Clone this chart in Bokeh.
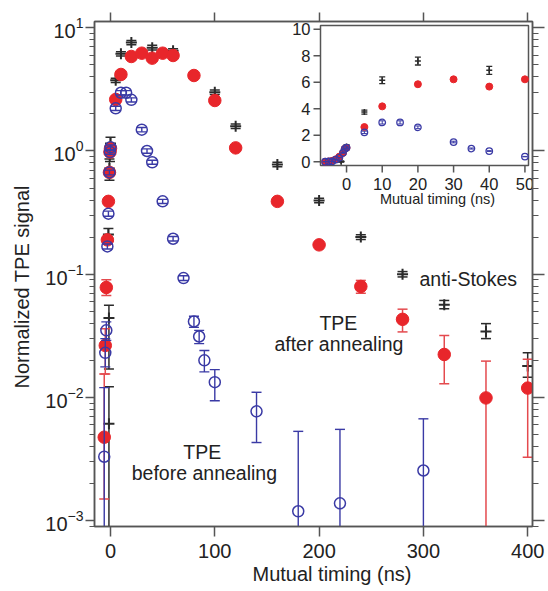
from bokeh.plotting import figure
from bokeh.models import (Range1d, LinearScale, LinearAxis, LogAxis, Label, Title,
                          FixedTicker, LogTickFormatter, CustomJSTickFormatter)
from bokeh.core.properties import value
from bokeh.embed import file_html
from bokeh.resources import INLINE

# ---------------- data ----------------
# TPE after annealing (red filled circles)
after_x = [-6, -5, -4, -3, -2, -1, -0.5, 0, 5, 10, 20, 30, 40, 50, 60, 80, 100, 120, 160, 200, 240, 280, 320, 360, 400]
after_y = [0.00475, 0.0264, 0.078, 0.19, 0.39, 0.67, 0.98, 1.05, 2.62, 4.18, 5.85, 6.22, 5.67, 6.22, 5.96, 4.1, 2.57, 1.06, 0.39, 0.173, 0.0795, 0.043, 0.0223, 0.0099, 0.0119]
after_lo = [0.0015, 0.0155, 0.067, 0.18, 0.375, 0.645, 0.95, 1.01, 2.55, 4.07, 5.7, 6.05, 5.52, 6.05, 5.8, 3.99, 2.5, 1.03, 0.38, 0.168, 0.07, 0.034, 0.0129, 0.00001, 0.00327]
after_hi = [0.0155, 0.036, 0.09, 0.2, 0.405, 0.695, 1.01, 1.09, 2.69, 4.29, 6.0, 6.39, 5.82, 6.39, 6.12, 4.21, 2.64, 1.09, 0.40, 0.178, 0.089, 0.052, 0.0318, 0.0197, 0.0204]

# TPE before annealing (blue open circles)
before_x = [-6, -5, -4, -3, -2, -1, -0.5, 0, 5, 10, 15, 20, 30, 35, 40, 50, 60, 70, 80, 85, 90, 100, 140, 180, 220, 300]
before_y = [0.0033, 0.023, 0.035, 0.168, 0.31, 0.67, 0.98, 1.07, 2.22, 2.97, 2.97, 2.6, 1.49, 1.0, 0.81, 0.39, 0.194, 0.093, 0.0413, 0.0312, 0.02, 0.0133, 0.0077, 0.00119, 0.00138, 0.00255]
before_lo = [0.00001, 0.0177, 0.029, 0.16, 0.295, 0.64, 0.94, 1.02, 2.13, 2.85, 2.85, 2.5, 1.43, 0.96, 0.78, 0.375, 0.186, 0.089, 0.037, 0.0273, 0.0161, 0.0094, 0.0043, 0.00001, 0.00001, 0.00001]
before_hi = [0.012, 0.03, 0.041, 0.176, 0.325, 0.7, 1.02, 1.12, 2.31, 3.09, 3.09, 2.7, 1.55, 1.04, 0.84, 0.405, 0.202, 0.097, 0.0455, 0.035, 0.024, 0.0168, 0.011, 0.0053, 0.0055, 0.0067]

# anti-Stokes (black crosses)
anti_x = [-1.5, -1.5, -2, -1, -0.5, 0, 5, 10, 20, 40, 60, 100, 120, 160, 200, 240, 280, 320, 360, 400]
anti_y = [0.0061, 0.044, 0.21, 0.72, 0.95, 1.15, 3.75, 6.15, 7.6, 6.9, 6.5, 3.0, 1.59, 0.777, 0.397, 0.2, 0.1, 0.0565, 0.0343, 0.018]
anti_lo = [0.00001, 0.017, 0.185, 0.58, 0.82, 1.0, 3.6, 5.9, 7.3, 6.6, 6.25, 2.88, 1.52, 0.745, 0.38, 0.191, 0.095, 0.0524, 0.030, 0.0146]
anti_hi = [0.0122, 0.056, 0.235, 0.86, 1.1, 1.29, 3.9, 6.4, 7.9, 7.2, 6.75, 3.12, 1.66, 0.81, 0.414, 0.209, 0.105, 0.0612, 0.0397, 0.023]

x_ticks = [0, 100, 200, 300, 400]
y_ticks = [1e-3, 1e-2, 1e-1, 1, 10]
y_minor = [m * 10.0 ** e for e in range(-4, 2) for m in range(2, 10)]
inset_x_ticks = [0, 10, 20, 30, 40, 50]
inset_y_ticks = [0, 2, 4, 6, 8, 10]
inset_x_max = 51

# ---------------- styles / geometry ----------------
FONT = "Liberation Sans"
RED = "#e8262b"
RED_BAR = "#e44a4e"
BLUE = "#3a3aa5"
BLACK = "#2b2b2b"
AXIS = "#555555"
TXT = "#222222"

FRAME_W, FRAME_H = 438, 505
p = figure(width=548, height=591, y_axis_type="log",
           x_range=Range1d(-15.34, 404.6),
           y_range=Range1d(10 ** -3.048, 10 ** 1.0511),
           output_backend="svg", toolbar_location=None,
           min_border_left=94, min_border_right=16,
           min_border_top=21, min_border_bottom=65)
p.xgrid.visible = False
p.ygrid.visible = False
p.outline_line_color = AXIS
p.outline_line_width = 1.5
p.background_fill_color = "white"
p.border_fill_color = "white"

# bottom axis
xa = p.xaxis[0]
xa.ticker = FixedTicker(ticks=x_ticks)
xa.major_label_text_font = FONT
xa.major_label_text_font_size = "20px"
xa.major_label_text_color = TXT
xa.major_tick_out = 10
xa.major_tick_in = 0
xa.minor_tick_out = 0
xa.minor_tick_in = 0
xa.major_label_standoff = 7
xa.axis_line_color = AXIS
xa.axis_line_width = 1.5
xa.major_tick_line_color = AXIS
xa.major_tick_line_width = 1.5

# left axis
ya = p.yaxis[0]
ya.ticker = FixedTicker(ticks=y_ticks, minor_ticks=y_minor)
ya.formatter = LogTickFormatter()
ya.major_label_text_font = FONT
ya.major_label_text_font_size = "20px"
ya.major_label_text_color = TXT
ya.major_tick_out = 9
ya.major_tick_in = 0
ya.minor_tick_out = 5
ya.minor_tick_in = 0
ya.major_label_standoff = 2
ya.axis_line_color = AXIS
ya.axis_line_width = 1.5
ya.major_tick_line_color = AXIS
ya.major_tick_line_width = 1.5
ya.minor_tick_line_color = AXIS
ya.minor_tick_line_width = 1.2

# top and right axes: ticks only (empty labels)
blank = CustomJSTickFormatter(code="return ''")
top = LinearAxis(ticker=FixedTicker(ticks=x_ticks), formatter=blank,
                 major_label_text_font_size="1px",
                 major_label_standoff=0, major_tick_out=9, major_tick_in=0,
                 minor_tick_out=0, minor_tick_in=0, axis_line_color=AXIS,
                 axis_line_width=1.5, major_tick_line_color=AXIS, major_tick_line_width=1.5)
p.add_layout(top, "above")
right = LogAxis(ticker=FixedTicker(ticks=y_ticks, minor_ticks=y_minor), formatter=blank,
                major_label_text_font_size="1px", major_label_standoff=0,
                major_tick_out=12, major_tick_in=0, minor_tick_out=6, minor_tick_in=0,
                axis_line_color=AXIS, axis_line_width=1.5,
                major_tick_line_color=AXIS, major_tick_line_width=1.5,
                minor_tick_line_color=AXIS, minor_tick_line_width=1.2)
p.add_layout(right, "right")

# axis titles as side titles (left-aligned with an offset from the frame edge)
title_kw = dict(text_font=FONT, text_font_size="20px", text_font_style="normal",
                text_color=TXT, align="left")
p.add_layout(Title(text="Mutual timing (ns)", offset=158, standoff=0, **title_kw), "below")
p.add_layout(Title(text="Normalized TPE signal", offset=138, standoff=15,
                   vertical_align="top", **title_kw), "left")


def errbars(xs, lo, hi, color, cap, lw, **kw):
    p.segment(x0=xs, y0=lo, x1=xs, y1=hi, line_color=color, line_width=lw, **kw)
    p.scatter(xs, lo, marker="dash", size=cap, line_color=color, line_width=lw, **kw)
    p.scatter(xs, hi, marker="dash", size=cap, line_color=color, line_width=lw, **kw)


# ---------------- main plot ----------------
errbars(anti_x, anti_lo, anti_hi, BLACK, 10, 1.5)
p.scatter(anti_x, anti_y, marker="cross", size=11, line_color=BLACK, line_width=2)
errbars(after_x, after_lo, after_hi, RED_BAR, 10, 1.5)
p.scatter(after_x, after_y, marker="circle", size=12.5, fill_color=RED, line_color=RED)
errbars(before_x, before_lo, before_hi, BLUE, 10, 1.4)
p.scatter(before_x, before_y, marker="circle", size=11, fill_color=None,
          line_color=BLUE, line_width=1.5)

lab_kw = dict(text_font=FONT, text_font_size="19.5px", text_color=TXT,
              text_align="center", text_baseline="middle")
p.add_layout(Label(x=343, y=0.0906, text="anti-Stokes", **lab_kw))
p.add_layout(Label(x=218.5, y=0.0398, text="TPE", **lab_kw))
p.add_layout(Label(x=219, y=0.0269, text="after annealing", **lab_kw))
p.add_layout(Label(x=88, y=0.00359, text="TPE", **lab_kw))
p.add_layout(Label(x=90, y=0.00243, text="before annealing", **lab_kw))

# ---------------- inset (linear axes mapped into a sub-box) ----------------
INSET_X = (-7.3, 51.0)
INSET_Y = (-0.28, 10.28)
BOX_L, BOX_R, BOX_T, BOX_B = 226, 434, 4, 144  # px inside the main frame
sx = (INSET_X[1] - INSET_X[0]) / (BOX_R - BOX_L)
sy = (INSET_Y[1] - INSET_Y[0]) / (BOX_B - BOX_T)
p.extra_x_ranges = {"ix": Range1d(INSET_X[0] - BOX_L * sx, INSET_X[1] + (FRAME_W - BOX_R) * sx)}
p.extra_y_ranges = {"iy": Range1d(INSET_Y[0] - (FRAME_H - BOX_B) * sy, INSET_Y[1] + BOX_T * sy)}
p.extra_x_scales = {"ix": LinearScale()}
p.extra_y_scales = {"iy": LinearScale()}
ik = dict(x_range_name="ix", y_range_name="iy")

p.quad(left=[INSET_X[0]], right=[INSET_X[1]], bottom=[INSET_Y[0]], top=[INSET_Y[1]],
       fill_color="white", line_color=AXIS, line_width=1.5, **ik)

# inset ticks
p.segment(x0=inset_x_ticks, y0=[INSET_Y[0]] * len(inset_x_ticks),
          x1=inset_x_ticks, y1=[INSET_Y[0] - 7 * sy] * len(inset_x_ticks),
          line_color=AXIS, line_width=1.5, **ik)
p.segment(x0=[INSET_X[0]] * len(inset_y_ticks), y0=inset_y_ticks,
          x1=[INSET_X[0] - 7 * sx] * len(inset_y_ticks), y1=inset_y_ticks,
          line_color=AXIS, line_width=1.5, **ik)
p.text(x=inset_x_ticks, y=[INSET_Y[0] - 18 * sy] * len(inset_x_ticks),
       text=[str(t) for t in inset_x_ticks], text_font=value(FONT),
       text_font_size="16.5px", text_color=TXT, text_align="center",
       text_baseline="middle", **ik)
p.text(x=[INSET_X[0] - 10 * sx] * len(inset_y_ticks), y=inset_y_ticks,
       text=[str(t) for t in inset_y_ticks], text_font=value(FONT),
       text_font_size="16.5px", text_color=TXT, text_align="right",
       text_baseline="middle", **ik)
p.text(x=[25.5], y=[INSET_Y[0] - 33 * sy], text=["Mutual timing (ns)"],
       text_font=value(FONT), text_font_size="14.5px", text_color=TXT,
       text_align="center", text_baseline="middle", **ik)


def sel(xs, *cols):
    idx = [i for i, v in enumerate(xs) if v <= inset_x_max]
    return [[c[i] for i in idx] for c in (xs,) + cols]


ax_, ay_, alo_, ahi_ = sel(anti_x, anti_y, anti_lo, anti_hi)
rx_, ry_, rlo_, rhi_ = sel(after_x, after_y, after_lo, after_hi)
bx_, by_, blo_, bhi_ = sel(before_x, before_y, before_lo, before_hi)

errbars(ax_, alo_, ahi_, BLACK, 6, 1.3, **ik)
p.scatter(ax_, ay_, marker="cross", size=6, line_color=BLACK, line_width=1.5, **ik)
p.scatter(rx_, ry_, marker="circle", size=7, fill_color=RED, line_color=RED, **ik)
errbars(bx_, blo_, bhi_, BLUE, 5, 1.0, **ik)
p.scatter(bx_, by_, marker="circle", size=6.5, fill_color=None, line_color=BLUE,
          line_width=1.3, **ik)

open("out.html", "w").write(file_html(p, INLINE))
